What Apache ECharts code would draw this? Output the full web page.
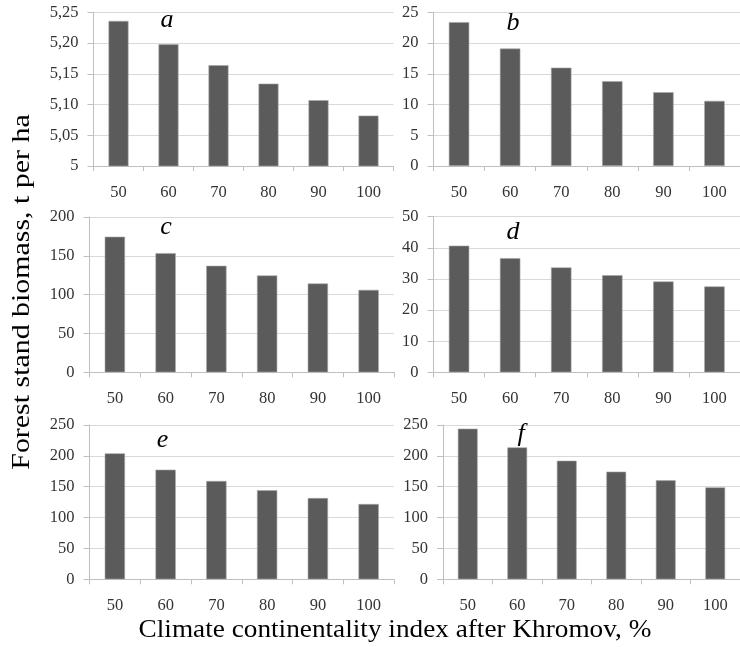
<!DOCTYPE html>
<html>
<head>
<meta charset="utf-8">
<script src="https://cdn.jsdelivr.net/npm/echarts@6/dist/echarts.min.js"></script>
<style>
html,body{margin:0;padding:0;background:#fff;}
#chart{width:740px;height:647px;}
</style>
</head>
<body>
<div id="chart"></div>
<script>
// Categories (climate continentality index, %)
const categories = ['50', '60', '70', '80', '90', '100'];

// Series values per panel (forest stand biomass, t per ha)
const valuesA = [5.236, 5.198, 5.164, 5.134, 5.107, 5.082];
const valuesB = [23.4, 19.1, 16.0, 13.8, 12.0, 10.6];
const valuesC = [174.6, 153.5, 137.2, 124.7, 114.4, 106.2];
const valuesD = [40.7, 36.7, 33.7, 31.2, 29.2, 27.6];
const valuesE = [204.1, 177.6, 159.3, 144.2, 131.7, 122.0];
const valuesF = [244.1, 213.8, 192.2, 174.4, 160.4, 149.0];

// Panel letters
const panelLetters = ['a', 'b', 'c', 'd', 'e', 'f'];

// Y axis scales: [min, max, interval]
const scaleA = [5, 5.25, 0.05];
const scaleB = [0, 25, 5];
const scaleC = [0, 200, 50];
const scaleD = [0, 50, 10];
const scaleE = [0, 250, 50];
const scaleF = [0, 250, 50];

const yTitle = 'Forest stand biomass, t per ha';
const xTitle = 'Climate continentality index after Khromov, %';

const panels = [
  {values: valuesA, scale: scaleA, grid: {left: 93.5, top: 12.3, width: 300, height: 153.7}, letter: [167, 20.5], fmt: v => (Math.abs(v - 5) < 1e-9 ? '5' : v.toFixed(2).replace('.', ','))},
  {values: valuesB, scale: scaleB, grid: {left: 433.5, top: 12.3, width: 314, height: 153.7}, letter: [513, 23.5]},
  {values: valuesC, scale: scaleC, grid: {left: 89.5, top: 217, width: 304.5, height: 155.3}, letter: [166, 227.5]},
  {values: valuesD, scale: scaleD, grid: {left: 433.5, top: 216.7, width: 314, height: 155.6}, letter: [513, 232]},
  {values: valuesE, scale: scaleE, grid: {left: 89.5, top: 425, width: 304.5, height: 154.3}, letter: [162.5, 440]},
  {values: valuesF, scale: scaleF, grid: {left: 443, top: 425, width: 305, height: 154.3}, letter: [521, 434]}
];

const FONT = '"Liberation Serif", "Times New Roman", serif';
const labelColor = '#333333';

const grids = [], xAxes = [], yAxes = [], series = [], graphics = [];
panels.forEach((p, i) => {
  grids.push(Object.assign({containLabel: false}, p.grid));
  xAxes.push({
    type: 'category', gridIndex: i, data: categories,
    axisLine: {show: true, lineStyle: {color: '#bfbfbf', width: 1}},
    axisTick: {show: true, length: 5, lineStyle: {color: '#bfbfbf'}},
    axisLabel: {color: labelColor, fontFamily: FONT, fontSize: 16.5, margin: 18},
    splitLine: {show: false}
  });
  yAxes.push({
    type: 'value', gridIndex: i,
    min: p.scale[0], max: p.scale[1], interval: p.scale[2],
    axisLine: {show: true, lineStyle: {color: '#bfbfbf', width: 1}},
    axisTick: {show: true, length: 6, lineStyle: {color: '#bfbfbf'}},
    axisLabel: {color: labelColor, fontFamily: FONT, fontSize: 16.5, margin: 15,
      formatter: p.fmt ? p.fmt : (v => String(Math.round(v)))},
    splitLine: {show: true, lineStyle: {color: '#d9d9d9', width: 1}}
  });
  series.push({
    type: 'bar', xAxisIndex: i, yAxisIndex: i, data: p.values,
    barWidth: '40%',
    itemStyle: {color: '#5b5b5b', borderColor: '#a8a8a8', borderWidth: 0.6},
    silent: true, animation: false
  });
  graphics.push({
    type: 'text', x: p.letter[0], y: p.letter[1], z: 100,
    style: {text: panelLetters[i], font: 'italic 26px ' + FONT, fill: '#000', textAlign: 'center', textVerticalAlign: 'middle'}
  });
});

graphics.push({
  type: 'text', x: 22, y: 292, rotation: Math.PI / 2, scaleX: 1.15, z: 100,
  style: {text: yTitle, font: '26px ' + FONT, fill: '#000', textAlign: 'center', textVerticalAlign: 'middle'}
});
graphics.push({
  type: 'text', x: 395, y: 630, scaleX: 1.09, z: 100,
  style: {text: xTitle, font: '25px ' + FONT, fill: '#000', textAlign: 'center', textVerticalAlign: 'middle'}
});

const chart = echarts.init(document.getElementById('chart'), null, {renderer: 'canvas'});
chart.setOption({
  animation: false,
  backgroundColor: '#ffffff',
  grid: grids,
  xAxis: xAxes,
  yAxis: yAxes,
  series: series,
  graphic: graphics
});
</script>
</body>
</html>
